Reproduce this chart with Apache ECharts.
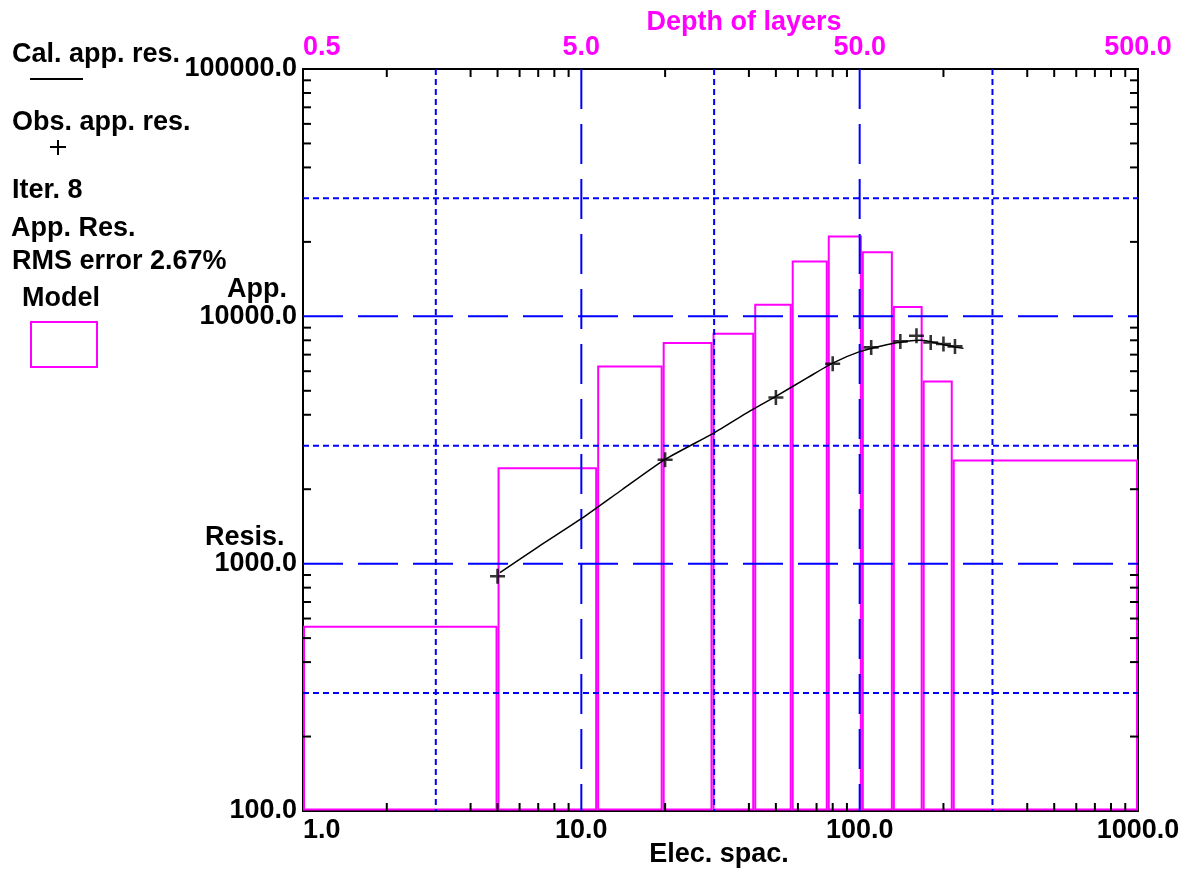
<!DOCTYPE html>
<html>
<head>
<meta charset="utf-8">
<script src="https://cdn.jsdelivr.net/npm/echarts@6/dist/echarts.min.js"></script>
<style>
  html, body { margin: 0; padding: 0; background: #ffffff; }
  #chart { width: 1196px; height: 872px; }
</style>
</head>
<body>
<div id="chart"></div>
<script>
// Calculated apparent resistivity curve (electrode spacing, ohm-m)
const calcSpacing = [5.1, 7, 10, 14, 20, 30, 40, 50, 65, 80, 100, 125, 150, 165, 180, 200, 236];
const calcRes     = [920, 1170, 1520, 1990, 2640, 3380, 4120, 4750, 5650, 6470, 7200, 7680, 7950, 8010, 7900, 7680, 7420];

// Observed apparent resistivity readings
const obsSpacing = [5, 20, 50, 80, 110, 140, 160, 180, 200, 220];
const obsRes     = [890, 2630, 4700, 6430, 7490, 7920, 8350, 7840, 7730, 7560];

// Layered model: depth of each layer boundary and resistivity of each layer
const layerBottoms = [2.5, 5.7, 9.8, 14.8, 20.9, 28.5, 38.4, 50.9, 65.8, 84.2, 108];
const layerRes     = [556, 2430, 6270, 7800, 8500, 11140, 16680, 21050, 18140, 10900, 5450, 2610];

// Axis ranges and reference lines
const SPACING_MIN = 1, SPACING_MAX = 1000;
const DEPTH_MIN = 0.5, DEPTH_MAX = 500;
const RES_MIN = 100, RES_MAX = 100000;
const xMajorGrid = [10, 100];
const xMinorGrid = [3, 30, 300];
const yMajorGrid = [1000, 10000];
const yMinorGrid = [300, 3000, 30000];
const xDecades = [1, 10, 100];
const yDecades = [100, 1000, 10000];
const tickSteps = [2, 4, 5, 6, 7, 8, 9];

const MAGENTA = '#ff00ff';
const BLUE = '#0000ff';
const FONT = '"Liberation Sans", Arial, sans-serif';
const FONT_SIZE = 27;

const modelData = layerRes.map((r, i) => [
  i === 0 ? DEPTH_MIN : layerBottoms[i - 1],
  i === layerRes.length - 1 ? DEPTH_MAX : layerBottoms[i],
  r
]);

function seg(x1, y1, x2, y2, color, width, dash) {
  return {
    type: 'line',
    shape: { x1, y1, x2, y2 },
    style: { stroke: color, lineWidth: width, lineDash: dash || null, fill: null }
  };
}

const chart = echarts.init(document.getElementById('chart'), null, { renderer: 'canvas' });

const axisFont = { fontFamily: FONT, fontWeight: 'bold', fontSize: FONT_SIZE };

function txt(text, x, y, align, color) {
  return {
    type: 'text',
    x, y,
    style: {
      text, fill: color || '#000', align: align || 'left', verticalAlign: 'middle',
      fontFamily: FONT, fontWeight: 'bold', fontSize: FONT_SIZE
    }
  };
}

chart.setOption({
  animation: false,
  backgroundColor: '#ffffff',
  grid: { left: 303, top: 69, right: 58, bottom: 61, containLabel: false },
  xAxis: [
    {
      type: 'log', logBase: 10, min: SPACING_MIN, max: SPACING_MAX, position: 'bottom',
      axisLine: { show: true, lineStyle: { color: '#000', width: 2 } },
      axisTick: { show: false }, splitLine: { show: false }, minorTick: { show: false },
      axisLabel: {
        ...axisFont, color: '#000', margin: 6,
        formatter: v => Number(v).toFixed(1),
        alignMinLabel: 'left'
      }
    },
    {
      type: 'log', logBase: 10, min: SPACING_MIN, max: SPACING_MAX, position: 'top',
      axisLine: { show: true, lineStyle: { color: '#000', width: 2 } },
      axisTick: { show: false }, splitLine: { show: false },
      axisLabel: {
        ...axisFont, color: MAGENTA, margin: 8,
        formatter: v => (Number(v) / 2).toFixed(1),
        alignMinLabel: 'left'
      }
    },
    {
      type: 'log', logBase: 10, min: DEPTH_MIN, max: DEPTH_MAX, show: false
    }
  ],
  yAxis: [
    {
      type: 'log', logBase: 10, min: RES_MIN, max: RES_MAX, position: 'left',
      axisLine: { show: true, lineStyle: { color: '#000', width: 2 } },
      axisTick: { show: false }, splitLine: { show: false },
      axisLabel: { ...axisFont, color: '#000', margin: 6, formatter: v => Number(v).toFixed(1) }
    },
    {
      type: 'log', logBase: 10, min: RES_MIN, max: RES_MAX, position: 'right',
      axisLine: { show: true, lineStyle: { color: '#000', width: 2 } },
      axisTick: { show: false }, splitLine: { show: false }, axisLabel: { show: false }
    }
  ],
  series: [
    {
      // layered resistivity model drawn as outlined boxes against depth
      type: 'custom', name: 'Model', xAxisIndex: 2, yAxisIndex: 0, z: 2,
      encode: { x: [0, 1], y: 2 },
      data: modelData,
      renderItem(params, api) {
        const a = api.coord([api.value(0), api.value(2)]);
        const b = api.coord([api.value(1), RES_MIN]);
        const x0 = a[0] + 1, x1 = b[0] - 1;
        const y0 = a[1], y1 = b[1] - 1.5;
        return {
          type: 'rect',
          shape: { x: x0, y: y0, width: x1 - x0, height: y1 - y0 },
          style: { fill: null, stroke: MAGENTA, lineWidth: 2 }
        };
      }
    },
    {
      // reference grid lines and log minor ticks
      type: 'custom', xAxisIndex: 0, yAxisIndex: 0, z: 3, silent: true,
      data: [[SPACING_MIN, RES_MIN]],
      renderItem(params, api) {
        const cs = params.coordSys;
        const L = cs.x, R = cs.x + cs.width, T = cs.y, B = cs.y + cs.height;
        const kids = [];
        xMinorGrid.forEach(v => { const x = api.coord([v, RES_MIN])[0]; kids.push(seg(x, T, x, B, BLUE, 2, [6, 4])); });
        yMinorGrid.forEach(v => { const y = api.coord([SPACING_MIN, v])[1]; kids.push(seg(L, y, R, y, BLUE, 2, [6, 4])); });
        xMajorGrid.forEach(v => { const x = api.coord([v, RES_MIN])[0]; kids.push(seg(x, T, x, B, BLUE, 2, [40, 15])); });
        yMajorGrid.forEach(v => { const y = api.coord([SPACING_MIN, v])[1]; kids.push(seg(L, y, R, y, BLUE, 2, [40, 15])); });
        xDecades.forEach(d => tickSteps.forEach(s => {
          const x = api.coord([d * s, RES_MIN])[0];
          kids.push(seg(x, B, x, B - 8, '#000', 2));
          kids.push(seg(x, T, x, T + 8, '#000', 2));
        }));
        yDecades.forEach(d => tickSteps.forEach(s => {
          const y = api.coord([SPACING_MIN, d * s])[1];
          kids.push(seg(L, y, L + 8, y, '#000', 2));
          kids.push(seg(R, y, R - 8, y, '#000', 2));
        }));
        return { type: 'group', children: kids };
      }
    },
    {
      type: 'line', name: 'Cal. app. res.', xAxisIndex: 0, yAxisIndex: 0, z: 4,
      data: calcSpacing.map((s, i) => [s, calcRes[i]]),
      smooth: 0.2, showSymbol: false, symbol: 'none',
      lineStyle: { color: '#000', width: 1.5 }
    },
    {
      type: 'scatter', name: 'Obs. app. res.', xAxisIndex: 0, yAxisIndex: 0, z: 5,
      data: obsSpacing.map((s, i) => [s, obsRes[i]]),
      symbol: 'path://M-1.2,-7L1.2,-7L1.2,-1.2L7,-1.2L7,1.2L1.2,1.2L1.2,7L-1.2,7L-1.2,1.2L-7,1.2L-7,-1.2L-1.2,-1.2Z',
      symbolSize: 15,
      itemStyle: { color: '#000' }
    }
  ],
  graphic: [
    txt('Cal. app. res.', 12, 55),
    seg(30, 79, 83, 79, '#000', 2),
    txt('Obs. app. res.', 12, 123),
    seg(50, 147, 66, 147, '#000', 2),
    seg(58, 140, 58, 155, '#000', 2),
    txt('Iter. 8', 12, 191),
    txt('App. Res.', 11, 229),
    txt('RMS error 2.67%', 12, 262),
    txt('Model', 22, 299),
    {
      type: 'rect', shape: { x: 31, y: 322, width: 66, height: 45 },
      style: { fill: null, stroke: MAGENTA, lineWidth: 2 }
    },
    txt('App.', 287, 290, 'right'),
    txt('Resis.', 205, 538),
    txt('Elec. spac.', 719, 855, 'center'),
    txt('Depth of layers', 744, 23, 'center', MAGENTA)
  ]
});
</script>
</body>
</html>
